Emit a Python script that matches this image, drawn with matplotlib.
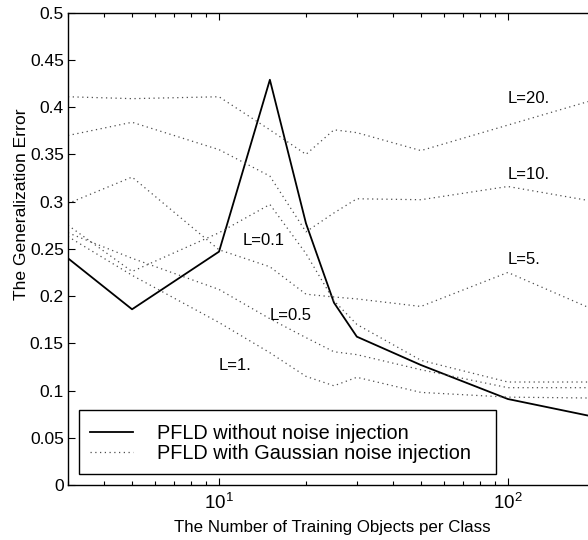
import matplotlib
matplotlib.use("Agg")
import matplotlib.pyplot as plt
from matplotlib.patches import Rectangle
from matplotlib.ticker import LogLocator, NullFormatter, FixedLocator, FixedFormatter

plt.rcParams['font.family'] = ['Liberation Sans', 'DejaVu Sans']

# training set sizes per class
n_train = [3, 5, 10, 15, 20, 25, 30, 50, 100, 200]

# PFLD without noise injection
err_plain = [0.240, 0.186, 0.247, 0.429, 0.277, 0.193, 0.157, 0.127, 0.091, 0.072]

# PFLD with Gaussian noise injection, one curve per L
err_L20 = [0.411, 0.409, 0.411, 0.376, 0.350, 0.376, 0.373, 0.354, 0.381, 0.408]
err_L10 = [0.370, 0.384, 0.355, 0.327, 0.268, 0.288, 0.303, 0.302, 0.316, 0.300]
err_L5 = [0.298, 0.326, 0.249, 0.231, 0.202, 0.199, 0.197, 0.189, 0.225, 0.185]
err_L01 = [0.275, 0.226, 0.267, 0.297, 0.245, 0.195, 0.170, 0.132, 0.109, 0.109]
err_L05 = [0.267, 0.240, 0.207, 0.176, 0.156, 0.141, 0.138, 0.122, 0.103, 0.103]
err_L1 = [0.263, 0.222, 0.172, 0.140, 0.115, 0.105, 0.114, 0.098, 0.093, 0.092]

noisy = [err_L20, err_L10, err_L5, err_L01, err_L05, err_L1]

# curve labels and where they sit (data coords)
label_text = ['L=20.', 'L=10.', 'L=5.', 'L=0.1', 'L=0.5', 'L=1.']
label_x = [100, 100, 100, 12.1, 15.0, 10.0]
label_y = [0.409, 0.329, 0.239, 0.259, 0.179, 0.127]

y_ticks = [0, 0.05, 0.1, 0.15, 0.2, 0.25, 0.3, 0.35, 0.4, 0.45, 0.5]
y_tick_labels = ['0', '0.05', '0.1', '0.15', '0.2', '0.25', '0.3', '0.35', '0.4', '0.45', '0.5']

fig = plt.figure(figsize=(5.88, 5.40), dpi=100)
ax = fig.add_axes([0.1156, 0.1019, 0.896, 0.8746])

ax.plot(n_train, err_plain, color='k', lw=1.3, label='PFLD without noise injection')
for i, err in enumerate(noisy):
    ax.plot(n_train, err, color='0.3', lw=0.9, linestyle=(0, (1, 2.8)),
            label='PFLD with Gaussian noise injection' if i == 0 else None)

for t, x, y in zip(label_text, label_x, label_y):
    ax.text(x, y, t, fontsize=12, ha='left', va='center')

ax.set_xscale('log')
ax.set_xlim(3, 200)
ax.set_ylim(0, 0.5)
ax.xaxis.set_major_locator(LogLocator(base=10, numticks=10))
ax.xaxis.set_minor_locator(LogLocator(base=10, subs=range(2, 10), numticks=20))
ax.xaxis.set_minor_formatter(NullFormatter())
ax.yaxis.set_major_locator(FixedLocator(y_ticks))
ax.yaxis.set_major_formatter(FixedFormatter(y_tick_labels))

ax.tick_params(which='both', direction='in', top=True, right=True, labelsize=12.5, width=0.8)
ax.tick_params(which='major', length=5)
ax.tick_params(which='minor', length=3)
ax.tick_params(axis='y', which='major', pad=3)
ax.tick_params(axis='x', which='major', pad=6, labelsize=13.5)
for s in ax.spines.values():
    s.set_linewidth(1.0)

ax.set_xlabel('The Number of Training Objects per Class', fontsize=12.2)
ax.xaxis.set_label_coords(0.501, -0.075)
ax.set_ylabel('The Generalization Error', fontsize=12.6)
ax.yaxis.set_label_coords(-0.074, 0.594)

# legend box drawn by hand, MATLAB style (wide right margin)
ax.add_patch(Rectangle((0.0209, 0.023), 0.791, 0.136, transform=ax.transAxes,
                       facecolor='white', edgecolor='k', lw=1.0, zorder=4))
leg = ax.legend(loc='center left', bbox_to_anchor=(0.0417, 0.0888), borderaxespad=0,
                fontsize=14.3, frameon=False, handlelength=2.15, handletextpad=1.25,
                labelspacing=0.05, borderpad=0)
leg.set_zorder(5)

fig.savefig('out.png', dpi=100)
